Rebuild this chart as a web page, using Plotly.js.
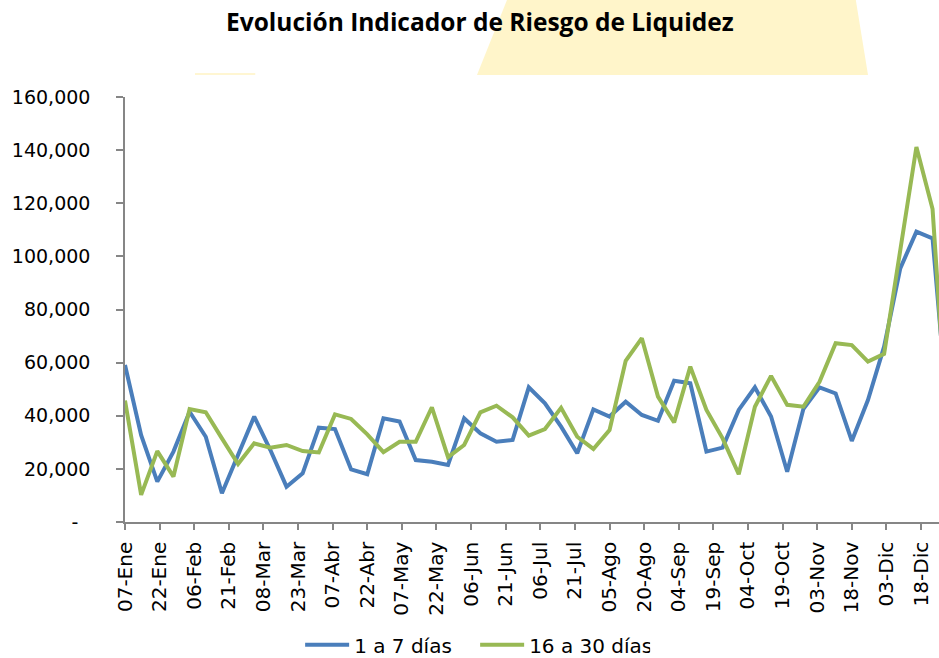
<!DOCTYPE html>
<html>
<head>
<meta charset="utf-8">
<script src="https://cdn.plot.ly/plotly-3.0.1.min.js"></script>
<style>
  html, body { margin: 0; padding: 0; background: #ffffff; overflow: hidden; }
  #riesgo { width: 939px; height: 658px; }
</style>
</head>
<body>
<div id="riesgo"></div>
<script>
(function() {
  "use strict";

  // weekly observations (year without Feb 29)
  var fechas = [
    "2013-01-07", "2013-01-14", "2013-01-21", "2013-01-28",
    "2013-02-04", "2013-02-11", "2013-02-18", "2013-02-25",
    "2013-03-04", "2013-03-11", "2013-03-18", "2013-03-25",
    "2013-04-01", "2013-04-08", "2013-04-15", "2013-04-22", "2013-04-29",
    "2013-05-06", "2013-05-13", "2013-05-20", "2013-05-27",
    "2013-06-03", "2013-06-10", "2013-06-17", "2013-06-24",
    "2013-07-01", "2013-07-08", "2013-07-15", "2013-07-22", "2013-07-29",
    "2013-08-05", "2013-08-12", "2013-08-19", "2013-08-26",
    "2013-09-02", "2013-09-09", "2013-09-16", "2013-09-23", "2013-09-30",
    "2013-10-07", "2013-10-14", "2013-10-21", "2013-10-28",
    "2013-11-04", "2013-11-11", "2013-11-18", "2013-11-25",
    "2013-12-02", "2013-12-09", "2013-12-16", "2013-12-23", "2013-12-30"
  ];

  var unoASiete = [
    59100, 32700, 15200, 26500, 41500, 32100, 10800, 25500,
    39700, 27100, 13300, 18300, 35500, 35000, 19800, 18000, 39000,
    37800, 23300, 22700, 21500, 39000, 33400, 30200, 30900,
    50700, 44700, 35900, 25900, 42400, 39700, 45300, 40300, 38100,
    53200, 52200, 26500, 28000, 42200, 50700, 39700, 18900, 42500,
    50700, 48400, 30500, 45900, 66000, 95500, 109300, 106800, 36000
  ];

  var dieciseisATreinta = [
    45700, 10200, 26700, 17100, 42500, 41300, 31500, 21800,
    29600, 28000, 29000, 26700, 26200, 40500, 38800, 33000, 26300,
    30200, 30200, 43200, 24400, 29000, 41300, 43800, 39400,
    32500, 35000, 43000, 32100, 27500, 34600, 60700, 69200, 47200,
    37500, 58500, 42200, 31500, 18000, 43400, 55000, 44100, 43400,
    52800, 67300, 66600, 60400, 63300, 102300, 141200, 117800, 26000
  ];

  var etiquetasX = [
    "07-Ene", "22-Ene", "06-Feb", "21-Feb", "08-Mar", "23-Mar",
    "07-Abr", "22-Abr", "07-May", "22-May", "06-Jun", "21-Jun",
    "06-Jul", "21-Jul", "05-Ago", "20-Ago", "04-Sep", "19-Sep",
    "04-Oct", "19-Oct", "03-Nov", "18-Nov", "03-Dic", "18-Dic"
  ];

  var valoresY = [0, 20000, 40000, 60000, 80000, 100000, 120000, 140000, 160000];
  var etiquetasY = ["-\u00a0\u00a0", "20,000", "40,000", "60,000", "80,000",
                    "100,000", "120,000", "140,000", "160,000"];

  var meses = {Ene: "01", Feb: "02", Mar: "03", Abr: "04", May: "05", Jun: "06",
               Jul: "07", Ago: "08", Sep: "09", Oct: "10", Nov: "11", Dic: "12"};

  function etiquetaAFecha(etiqueta) {
    var partes = etiqueta.split("-");
    return "2013-" + meses[partes[1]] + "-" + partes[0];
  }


  function main() {
    var gris = "#868686";
    var fuente = "DejaVu Sans, Verdana, sans-serif";

    var trace1 = {
      x: fechas,
      y: unoASiete,
      name: "1 a 7 días",
      type: "scatter",
      mode: "lines",
      line: {color: "#4A7EBB", width: 4}
    };

    var trace2 = {
      x: fechas,
      y: dieciseisATreinta,
      name: "16 a 30 días",
      type: "scatter",
      mode: "lines",
      line: {color: "#98B954", width: 4}
    };

    var layout = {
      width: 939,
      height: 658,
      margin: {l: 125, r: 0, t: 97, b: 136},
      paper_bgcolor: "#ffffff",
      plot_bgcolor: "#ffffff",
      font: {family: fuente, size: 19, color: "#000000"},
      title: {
        text: "<b>Evolución Indicador de Riesgo de Liquidez</b>",
        font: {family: "Open Sans, sans-serif", size: 24.5, color: "#000000"},
        xref: "container", x: 0.511, xanchor: "center",
        yref: "container", y: 0.966, yanchor: "middle"
      },
      showlegend: true,
      legend: {
        orientation: "h",
        xref: "container", x: 0.506, xanchor: "center",
        yref: "container", y: 0.02, yanchor: "middle",
        itemwidth: 44,
        entrywidth: 116,
        font: {family: fuente, size: 20, color: "#000000"}
      },
      xaxis: {
        type: "date",
        range: ["2013-01-07", "2013-12-25 19:00"],
        tickmode: "array",
        tickvals: etiquetasX.map(etiquetaAFecha),
        ticktext: etiquetasX,
        tickangle: -90,
        ticks: "outside",
        ticklen: 6,
        tickcolor: gris,
        tickwidth: 1.5,
        showline: true,
        linecolor: gris,
        linewidth: 1.5,
        showgrid: false,
        zeroline: false,
        ticklabelstandoff: 4,
        tickfont: {family: fuente, size: 20, color: "#000000"}
      },
      yaxis: {
        range: [0, 160000],
        tickmode: "array",
        tickvals: valoresY,
        ticktext: etiquetasY,
        ticks: "outside",
        ticklen: 7,
        tickcolor: gris,
        tickwidth: 1.5,
        showline: true,
        linecolor: gris,
        linewidth: 1.5,
        showgrid: false,
        zeroline: false,
        ticklabelstandoff: 22,
        tickfont: {family: fuente, size: 19, color: "#000000"}
      },
      shapes: [
        {
          type: "path",
          xref: "paper", yref: "paper",
          path: "M 0.4324 1.0518 L 0.4717 1.24 L 0.8968 1.24 L 0.9128 1.0518 Z",
          fillcolor: "rgb(255,245,202)",
          line: {width: 0},
          layer: "below"
        },
        {
          type: "rect",
          xref: "paper", yref: "paper",
          x0: 0.086, x1: 0.16, y0: 1.0518, y1: 1.0565,
          fillcolor: "rgb(255,246,210)",
          line: {width: 0},
          layer: "below"
        }
      ]
    };

    Plotly.newPlot("riesgo", [trace1, trace2], layout, {
      displayModeBar: false
    });
  }

  window.addEventListener("load", main, false);

})();
</script>
</body>
</html>
